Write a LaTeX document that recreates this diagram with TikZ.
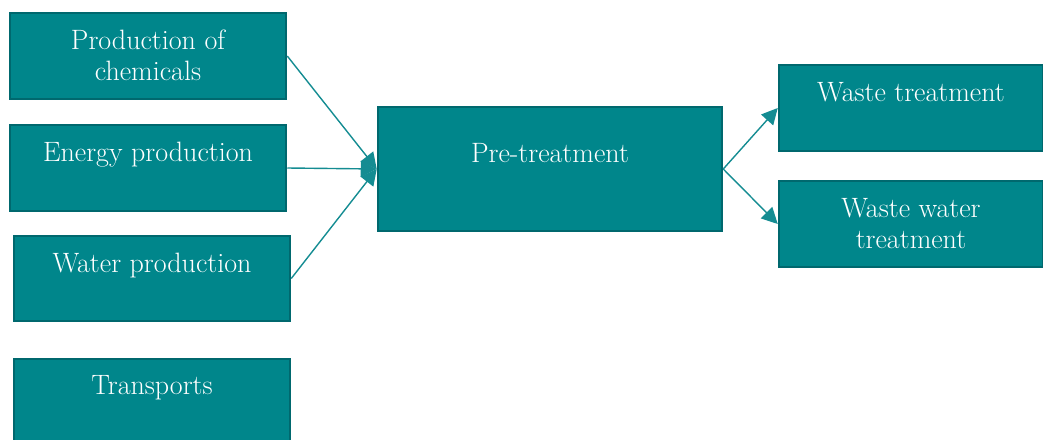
\documentclass[tikz,border=0pt]{standalone}
\usepackage{tikz}
\usetikzlibrary{arrows.meta}

\definecolor{tealfill}{RGB}{0,134,139}
\definecolor{tealedge}{RGB}{0,104,110}
\definecolor{tealline}{RGB}{20,140,146}

\begin{document}
\begin{tikzpicture}[x=1pt,y=-1pt,
  box/.style={draw=tealedge,line width=2.5pt,fill=tealfill,inner sep=0pt},
  lbl/.style={anchor=north,inner sep=0pt,text=white,align=center,
    font=\fontsize{28}{31}\selectfont},
  flow/.style={-{Triangle[length=16pt,width=16pt]},tealline,line width=1.4pt}]
  \useasboundingbox (0,0) rectangle (1043,439);

  % Inputs
  \node[box,minimum width=276pt,minimum height=86pt] (chem) at (148,56) {};
  \node[box,minimum width=276pt,minimum height=86pt] (energy) at (148,168) {};
  \node[box,minimum width=276pt,minimum height=85pt] (water) at (152,278.5) {};
  \node[box,minimum width=276pt,minimum height=86pt] (transp) at (152,402) {};

  % Central step
  \node[box,minimum width=344pt,minimum height=124pt] (pre) at (550,169) {};

  % Outputs
  \node[box,minimum width=264pt,minimum height=86pt] (waste) at (911,108) {};
  \node[box,minimum width=264pt,minimum height=86pt] (wwater) at (911,224) {};

  % Labels
  \node[lbl] (chemt) at ([yshift=-18pt]chem.north) {Production of\\chemicals};
  \node[lbl] (energyt) at ([yshift=-18pt]energy.north) {Energy production};
  \node[lbl] (watert) at ([yshift=-18pt]water.north) {Water production};
  \node[lbl] (transpt) at ([yshift=-18pt]transp.north) {Transports};
  \node[lbl] (pret) at ([yshift=-37pt]pre.north) {Pre-treatment};
  \node[lbl] (wastet) at ([yshift=-18pt]waste.north) {Waste treatment};
  \node[lbl] (wwatert) at ([yshift=-18pt]wwater.north) {Waste water\\treatment};

  % Flows
  \draw[flow] (chem.east) -- (pre.west);
  \draw[flow] (energy.east) -- (pre.west);
  \draw[flow] (water.east) -- (pre.west);
  \draw[flow] (pre.east) -- (waste.west);
  \draw[flow] (pre.east) -- (wwater.west);
\end{tikzpicture}
\end{document}
